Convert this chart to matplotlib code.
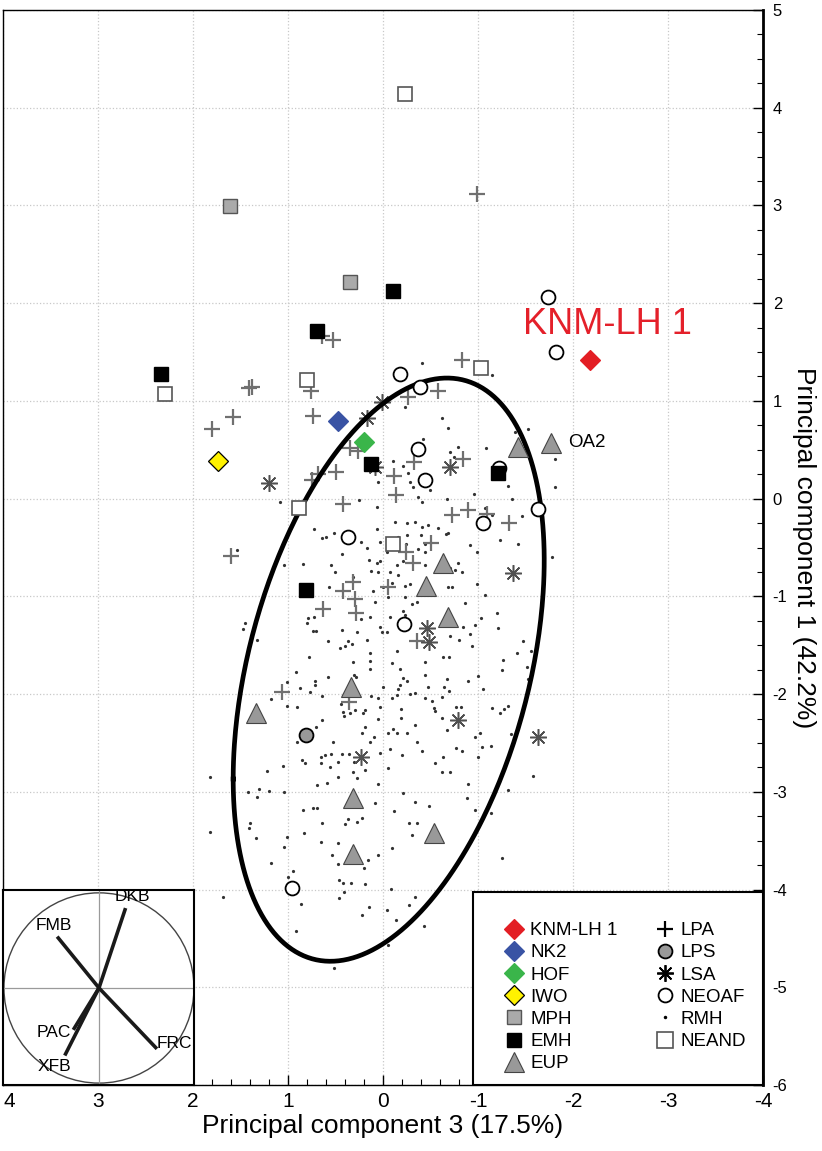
import numpy as np
import matplotlib
matplotlib.use("Agg")
import matplotlib.pyplot as plt
from matplotlib.lines import Line2D
from matplotlib.patches import Rectangle, Circle
from matplotlib.ticker import MultipleLocator

plt.rcParams['font.family'] = ['Liberation Sans', 'DejaVu Sans']

# ---- data: PC3 (x) and PC1 (y) scores ----
rmh_x = [1.08, 0.25, 1.54, 0.73, 0.64, 0.60, 0.52, 0.06, 0.03, 0.43, 0.23, 0.17, 0.15, 0.06, 0.03,
         0.05, 0.13, 0.55, 0.51, 0.84, 1.04, 0.32, -0.04, 0.05, 0.06,
         -0.23, -0.62, -0.68, -0.71, -0.79, -0.75, -0.42, -0.11, -0.26, -0.28, -0.32, -0.37, -0.49,
         -0.41, -0.21, -1.08, -1.39, -1.53, -1.81, -1.81, -1.32, -0.96, -1.36, -1.46, -1.07, -1.15,
         -1.42, -1.23, -1.78, -0.92, -0.99, -0.67, -0.68, -0.47, -0.41, -0.34, -0.25, -0.13, -0.58,
         -0.66, -0.40, -0.25, -0.16, -0.44, -0.24, -0.37, -0.44, -0.21, -0.15, -0.44, -0.79, -0.76,
         -0.83, -0.07, -0.16, -0.71, -0.41, -1.15,
         0.57, 0.11, 0.00, 0.08, 0.73, 0.79, 0.80, 0.23, 0.14, 1.45, 1.47, 0.74, 0.71, 0.43, 0.27,
         0.03, 0.01, 1.33, 0.58, 0.37, 0.33, 0.45, 0.40, 0.17, 0.14, 0.78, 0.32, 0.14, 0.14, 0.92,
         0.58, 0.31, 0.28, 0.72, 0.72, 0.87, 0.77, 1.01, 0.00, 0.64, 0.13, 0.05, 1.18, 1.01, 0.91,
         0.44, 0.42, 0.41, 0.35, 0.29, 0.19, 0.21, 0.03, 0.05, 0.64, 0.71, 0.19, 0.22, 0.09, 0.91,
         0.53, 0.14, 0.03, 0.65, 0.61, 0.55, 0.43, 0.36, 0.85, 0.82, 0.65, 0.47, 0.31, 0.56, 0.19,
         0.32, 1.05, 1.22, 1.82, 0.47, 0.27,
         -0.09, -0.23, -0.28, -0.68, -0.73, -0.99, -1.07, -0.05, -0.23, -0.31, -0.36, -0.21, -0.23,
         -0.86, -1.20, -1.03, -1.21, -0.97, -0.84, -0.07, -0.04, -0.92, -0.71, -0.80, -0.94, -1.47,
         -1.41, -1.56, -1.26, -1.25, -1.52, -1.53, -0.15, -0.63, -0.69, -0.44, -0.09, -0.18, -1.00,
         -0.44, -0.67, -0.21, -0.25, -0.89, -0.18, -0.16, -0.47, -0.64, -0.69, -1.05, -0.28, -0.34,
         -0.15, -0.09, -0.44, -0.52, -0.62, -1.15, -1.23, -1.27, -1.32, -0.77, -0.82, -0.54, -0.55,
         -0.19, -0.19, -0.62, -0.34, -0.11, -0.05, -0.15, -0.25, -0.67, -0.97, -1.02, -1.35, -0.36,
         -1.04, -1.14, -0.07, -0.41, -0.77, -0.83, -0.20, -0.63, -0.55, -0.05, -0.62, -0.71, -1.00,
         -1.58,
         0.69, 0.59, 0.05, 1.42, 1.31, 1.20, 1.04, 1.33, 0.08, 0.84, 0.74, 0.69, 0.64, 1.40, 1.41,
         0.40, 0.37, 0.27, 0.22, 0.83, 1.34, 1.01, 0.65, 0.47, 1.04, 0.54, 0.05, 0.16, 0.47, 1.18,
         0.20, 0.95, 1.00, 0.46, 0.42, 0.34, 0.19, 0.41, 1.68, 0.46, 0.86, 0.15, 0.22, 0.92, 0.52,
         -0.89, -1.32, -0.21, -0.34, -0.48, -0.88, -0.12, -0.97, -1.14, -0.27, -0.36, -0.31, -0.09,
         -1.25, -0.08, -0.34, -0.27, -0.04, -0.14, -0.43, -0.05, 1.82]
rmh_y = [-0.03, -0.01, -0.53, -0.31, -0.40, -0.39, -0.35, -0.31, -0.44, -0.57, -0.44, -0.51, -0.63,
         -0.66, -0.64, -0.75, -0.74, -0.68, -0.75, -0.67, -0.68, -0.80, -0.55, 0.17, -0.09,
         0.94, 0.83, 0.72, 0.48, 0.53, 0.43, 0.61, 0.39, 0.26, 0.17, 0.12, 0.02, 0.09, -0.03, 0.33,
         0.52, 0.68, 0.71, 0.41, 0.12, 0.13, 0.05, 0.00, -0.18, -0.10, -0.17, -0.46, -0.42, -0.60,
         -0.47, -0.55, 0.00, -0.35, -0.27, -0.29, -0.24, -0.25, -0.24, -0.30, -0.36, -0.37, -0.37,
         -0.39, -0.46, -0.46, -0.52, -0.55, -0.64, -0.68, -0.68, -0.66, -0.73, -0.75, -0.75, -0.78,
         -0.71, 1.39, 1.27,
         -0.90, -0.95, -0.90, -1.06, -1.21, -1.22, -1.27, -1.23, -1.21, -1.27, -1.33, -1.35, -1.35,
         -1.34, -1.36, -1.31, -1.36, -1.45, -1.46, -1.46, -1.49, -1.53, -1.51, -1.45, -1.58, -1.62,
         -1.67, -1.66, -1.74, -1.77, -1.82, -1.80, -1.83, -1.87, -1.91, -1.94, -1.98, -1.88, -1.93,
         -2.02, -2.02, -2.04, -2.05, -2.12, -2.13, -2.10, -2.18, -2.22, -2.19, -2.16, -2.16, -2.19,
         -2.13, -2.25, -2.26, -2.34, -2.34, -2.40, -2.44, -2.49, -2.49, -2.49, -2.60, -2.64, -2.62,
         -2.61, -2.61, -2.61, -2.67, -2.70, -2.70, -2.69, -2.69, -2.75, -2.78, -2.80, -2.74, -2.79,
         -2.85, -2.85, -2.86,
         -0.86, -0.89, -0.87, -0.90, -0.90, -0.87, -0.99, -1.01, -1.01, -1.08, -1.06, -1.15, -1.19,
         -1.07, -1.17, -1.22, -1.32, -1.29, -1.31, -1.21, -1.36, -1.38, -1.41, -1.45, -1.51, -1.46,
         -1.58, -1.56, -1.65, -1.75, -1.72, -1.85, -1.56, -1.62, -1.62, -1.67, -1.68, -1.74, -1.81,
         -1.80, -1.85, -1.84, -1.87, -1.87, -1.91, -1.95, -1.93, -1.93, -1.97, -1.95, -2.00, -1.99,
         -2.01, -2.04, -2.04, -2.07, -2.03, -2.14, -2.19, -2.15, -2.12, -2.13, -2.13, -2.14, -2.17,
         -2.15, -2.24, -2.24, -2.32, -2.36, -2.40, -2.40, -2.40, -2.37, -2.44, -2.40, -2.41, -2.49,
         -2.54, -2.53, -2.56, -2.58, -2.55, -2.58, -2.62, -2.64, -2.71, -2.76, -2.80, -2.80, -2.64,
         -2.84,
         -2.93, -2.91, -2.92, -3.00, -2.97, -2.99, -3.00, -3.05, -3.11, -3.19, -3.17, -3.17, -3.32,
         -3.32, -3.37, -3.33, -3.28, -3.31, -3.27, -3.42, -3.47, -3.46, -3.51, -3.52, -3.56, -3.65,
         -3.65, -3.70, -3.74, -3.73, -3.78, -3.81, -3.87, -3.90, -3.93, -3.93, -3.94, -4.02, -4.08,
         -4.09, -4.15, -4.18, -4.26, -4.42, -4.80,
         -2.92, -2.98, -3.01, -3.10, -3.14, -3.06, -3.20, -3.19, -3.22, -3.32, -3.32, -3.44, -3.57,
         -3.68, -3.99, -4.08, -4.16, -4.21, -4.31, -4.37, -4.57, -3.41]

lpa_x = [-0.99, 0.64, 0.53, 1.41, 1.38, 0.76, -0.58, -0.26, -0.83, 1.58, 1.80, 0.74, 0.35, 0.26,
         0.49, 0.75, 0.68, 0.42, 1.60, -0.33, -0.84, -0.12, -0.14, -0.73, -0.89, -1.09, -1.33,
         -0.51, -0.24, -0.32, -0.05, -0.36, 0.42, 0.32, 0.29, 0.63, 0.28, 1.06, 0.36]
lpa_y = [3.12, 1.66, 1.62, 1.13, 1.14, 1.10, 1.10, 1.04, 1.42, 0.84, 0.71, 0.85, 0.52, 0.49,
         0.27, 0.19, 0.25, -0.05, -0.59, 0.38, 0.41, 0.23, 0.04, -0.17, -0.12, -0.16, -0.25,
         -0.45, -0.55, -0.66, -0.90, -1.46, -0.95, -0.85, -1.03, -1.13, -1.17, -1.98, -2.08]

lsa_x = [0.08, 1.20, -0.71, -1.37, -0.46, -0.48, -0.79, -1.63, 0.23, 0.17, 0.01]
lsa_y = [0.32, 0.16, 0.32, -0.76, -1.32, -1.47, -2.26, -2.44, -2.64, 0.83, 0.99]

neoaf_x = [-1.74, -1.82, -0.18, -0.39, -0.37, -0.44, 0.37, -1.63, -1.05, -0.22, 0.96, -1.22]
neoaf_y = [2.06, 1.50, 1.28, 1.14, 0.51, 0.19, -0.39, -0.11, -0.25, -1.28, -3.98, 0.31]

eup_x = [-1.42, -1.77, -0.63, -0.45, -0.68, 0.34, 1.34, 0.32, 0.32, -0.54]
eup_y = [0.53, 0.57, -0.66, -0.89, -1.21, -1.93, -2.19, -3.06, -3.64, -3.42]

mph_x = [1.61, 0.35]
mph_y = [2.99, 2.22]
emh_x = [-0.11, 0.69, 2.34, 0.13, -1.21, 0.81]
emh_y = [2.12, 1.72, 1.28, 0.35, 0.26, -0.93]
neand_x = [-0.23, 2.29, 0.80, -1.03, 0.88, -0.11]
neand_y = [4.14, 1.07, 1.21, 1.34, -0.10, -0.46]
lps_x = [0.81]
lps_y = [-2.42]

# single specimens: name, pc3, pc1, colour
specimens = [("KNM-LH 1", -2.18, 1.42, "#e31e24"),
             ("NK2", 0.47, 0.79, "#3953a4"),
             ("HOF", 0.20, 0.58, "#3ab54a"),
             ("IWO", 1.74, 0.39, "#fff200")]

# RMH confidence ellipse: centre, sd pc3, sd pc1, correlation
ell_center = (-0.06, -1.75)
ell_sd = (1.637, 2.984)
ell_r = -0.375

# loadings on the inset circle
load_names = ["DKB", "FMB", "FRC", "PAC", "XFB"]
load_x = [0.28, -0.44, 0.61, -0.27, -0.36]
load_y = [0.84, 0.54, -0.64, -0.44, -0.71]
load_lab_x = [0.35, -0.48, 0.79, -0.48, -0.47]
load_lab_y = [0.96, 0.66, -0.58, -0.47, -0.83]

x_ticks = list(range(-4, 5))
y_ticks = list(range(-6, 6))

# ---- figure ----
fig = plt.figure(figsize=(8.22, 11.51), dpi=100)
ax = fig.add_axes([3 / 822, 66 / 1151, 760 / 822, 1075 / 1151])

ax.set_xlim(4, -4)
ax.set_ylim(-6, 5)
ax.set_xticks(x_ticks)
ax.set_xticklabels([str(v) for v in x_ticks], fontsize=15)
ax.set_yticks(y_ticks)
ax.set_yticklabels([str(v) for v in y_ticks], fontsize=12)
ax.xaxis.set_minor_locator(MultipleLocator(0.2))
ax.yaxis.set_minor_locator(MultipleLocator(0.25))
# keep the leftmost label inside the figure
ax.get_xticklabels()[-1].set_ha('left')
ax.grid(True, which='major', color='#c8c8c8', linestyle=':', linewidth=0.9)
ax.set_axisbelow(True)

ax.yaxis.tick_right()
ax.yaxis.set_label_position('right')
ax.tick_params(axis='both', which='both', direction='in')
ax.tick_params(axis='y', which='major', length=7, width=1, pad=7)
ax.tick_params(axis='y', which='minor', length=4, width=0.8)
ax.tick_params(axis='x', which='major', length=7, width=1, pad=5)
ax.tick_params(axis='x', which='minor', length=4, width=0.8)

for side in ['left', 'top', 'bottom']:
    ax.spines[side].set_linewidth(1)
ax.spines['right'].set_linewidth(2)

ax.set_xlabel("Principal component 3 (17.5%)", fontsize=19, labelpad=2)
ax.set_ylabel("Principal component 1 (42.2%)", fontsize=19, rotation=270, labelpad=3)
ax.yaxis.label.set_va('bottom')

# points
ax.plot(rmh_x, rmh_y, 'o', ms=2.3, color='#333333', mew=0, zorder=2)
ax.plot(lpa_x, lpa_y, '+', ms=11, mew=1.6, color='#707070', zorder=3)
ax.plot(lsa_x, lsa_y, marker=(8, 2, 0), ls='none', ms=12, mew=1.1, color='#505050', zorder=3)

# ellipse
t = np.linspace(0, 2 * np.pi, 400)
cov = np.array([[ell_sd[0] ** 2, ell_r * ell_sd[0] * ell_sd[1]],
                [ell_r * ell_sd[0] * ell_sd[1], ell_sd[1] ** 2]])
L = np.linalg.cholesky(cov)
pts = L @ np.vstack([np.cos(t), np.sin(t)])
ax.plot(pts[0] + ell_center[0], pts[1] + ell_center[1], color='black', lw=3.4, zorder=4)

ax.plot(neoaf_x, neoaf_y, 'o', ms=10, mfc='white', mec='black', mew=1.3, zorder=5)
ax.plot(eup_x, eup_y, '^', ms=15, mfc='#999999', mec='#444444', mew=0.8, zorder=5)
ax.plot(mph_x, mph_y, 's', ms=10.5, mfc='#aaaaaa', mec='#555555', mew=1, zorder=5)
ax.plot(emh_x, emh_y, 's', ms=10.5, mfc='black', mec='black', mew=1, zorder=6)
ax.plot(neand_x, neand_y, 's', ms=10.5, mfc='white', mec='#555555', mew=1.2, zorder=5)
ax.plot(lps_x, lps_y, 'o', ms=10, mfc='#999999', mec='black', mew=1.3, zorder=5)
for name, sx, sy, col in specimens:
    ec = 'black' if name == 'IWO' else col
    ax.plot([sx], [sy], 'D', ms=10, mfc=col, mec=ec, mew=0.9, zorder=6)

ax.text(-1.47, 1.78, "KNM-LH 1", color='#e4202a', fontsize=26, ha='left', va='center', zorder=7)
ax.text(-1.95, 0.57, "OA2", color='black', fontsize=13.5, ha='left', va='center', zorder=7)

# legend box
ax.add_patch(Rectangle((470 / 760, 0), 290 / 760, 193 / 1075, transform=ax.transAxes,
                       fc='white', ec='black', lw=1.5, zorder=8))
handles = []
for name, sx, sy, col in specimens:
    ec = 'black' if name == 'IWO' else col
    handles.append(Line2D([], [], marker='D', ls='none', ms=10, mfc=col, mec=ec, mew=0.9, label=name))
handles += [
    Line2D([], [], marker='s', ls='none', ms=10.5, mfc='#aaaaaa', mec='#555555', label='MPH'),
    Line2D([], [], marker='s', ls='none', ms=10.5, mfc='black', mec='black', label='EMH'),
    Line2D([], [], marker='^', ls='none', ms=14, mfc='#999999', mec='#444444', mew=0.8, label='EUP'),
    Line2D([], [], marker='+', ls='none', ms=12, mew=1.6, color='black', label='LPA'),
    Line2D([], [], marker='o', ls='none', ms=10, mfc='#999999', mec='black', mew=1.3, label='LPS'),
    Line2D([], [], marker=(8, 2, 0), ls='none', ms=12, mew=1.3, color='black', label='LSA'),
    Line2D([], [], marker='o', ls='none', ms=10, mfc='white', mec='black', mew=1.3, label='NEOAF'),
    Line2D([], [], marker='o', ls='none', ms=2.5, color='black', mew=0, label='RMH'),
    Line2D([], [], marker='s', ls='none', ms=12, mfc='white', mec='#555555', mew=1.2, label='NEAND'),
]
leg = ax.legend(handles=handles, ncol=2, loc='upper left', frameon=False,
                bbox_to_anchor=(505 / 822, 1 - 922 / 1151), bbox_transform=fig.transFigure,
                borderpad=0, borderaxespad=0, fontsize=13.5, handlelength=1.0,
                handletextpad=0.35, columnspacing=2.0, labelspacing=0.27)
leg.set_zorder(9)

# inset loadings circle
ins = fig.add_axes([3 / 822, 66 / 1151, 191 / 822, 195 / 1151])
ins.set_xlim(-1.01, 1.0)
ins.set_ylim(-1.02, 1.03)
ins.set_xticks([])
ins.set_yticks([])
for s in ins.spines.values():
    s.set_linewidth(1.5)
ins.axhline(0, color='#9a9a9a', lw=0.9)
ins.axvline(0, color='#9a9a9a', lw=0.9)
ins.add_patch(Circle((0, 0), 1, fill=False, ec='#444444', lw=1))
for name, lx, ly, tx, ty in zip(load_names, load_x, load_y, load_lab_x, load_lab_y):
    ins.plot([0, lx], [0, ly], color='#1a1a1a', lw=2.6, solid_capstyle='butt')
    ins.text(tx, ty, name, fontsize=12.5, ha='center', va='center')

fig.savefig("out.png", dpi=100)
